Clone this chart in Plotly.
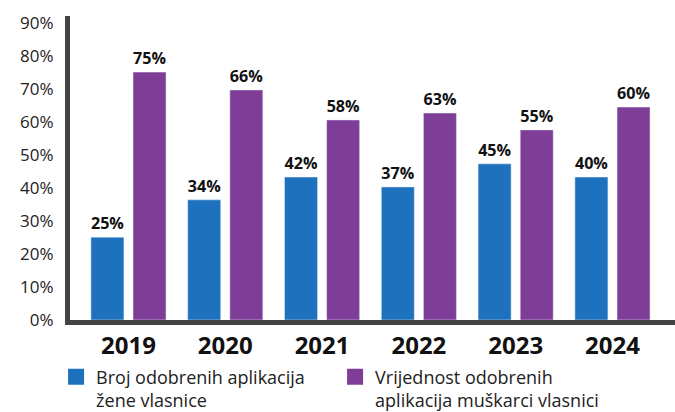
import plotly.graph_objects as go

years = ["2019", "2020", "2021", "2022", "2023", "2024"]
women_values = [25.1, 36.4, 43.3, 40.3, 47.3, 43.3]
men_values = [75.1, 69.7, 60.6, 62.7, 57.6, 64.5]
women_labels = ["25%", "34%", "42%", "37%", "45%", "40%"]
men_labels = ["75%", "66%", "58%", "63%", "55%", "60%"]
y_ticks = [0, 10, 20, 30, 40, 50, 60, 70, 80, 90]
y_tick_labels = ["0%", "10%", "20%", "30%", "40%", "50%", "60%", "70%", "80%", "90%"]
legend_names = ["Broj odobrenih aplikacija<br>žene vlasnice",
                "Vrijednost odobrenih<br>aplikacija muškarci vlasnici"]

BLUE = "#1e71bd"
PURPLE = "#7e3e97"
FONT = "Open Sans"

fig = go.Figure()
fig.add_trace(go.Bar(
    x=years, y=women_values, text=women_labels, textposition="outside",
    marker_color=BLUE, width=0.341, offset=-0.388, showlegend=False,
    textfont=dict(family=FONT, size=19, color="#111", weight="bold"),
    cliponaxis=False, hoverinfo="skip",
))
fig.add_trace(go.Bar(
    x=years, y=men_values, text=men_labels, textposition="outside",
    marker_color=PURPLE, width=0.341, offset=0.047, showlegend=False,
    textfont=dict(family=FONT, size=19, color="#111", weight="bold"),
    cliponaxis=False, hoverinfo="skip",
))
for name, col in zip(legend_names, [BLUE, PURPLE]):
    fig.add_trace(go.Scatter(
        x=[None], y=[None], mode="markers", name=name,
        marker=dict(symbol="square", size=19, color=col),
    ))

fig.update_layout(
    width=675, height=412,
    margin=dict(l=70, r=0, t=16, b=92, autoexpand=False),
    paper_bgcolor="white", plot_bgcolor="white",
    barmode="group",
    font=dict(family=FONT, color="#222"),
    showlegend=True,
    legend=dict(
        orientation="h", x=-0.023, y=-0.127, xanchor="left", yanchor="top",
        font=dict(family=FONT, size=18, color="#222"),
        entrywidth=234, entrywidthmode="pixels",
        valign="top", itemclick=False, itemdoubleclick=False,
    ),
    xaxis=dict(
        range=[-0.604, 5.646], showgrid=False, zeroline=False,
        showline=True, linecolor="#444", linewidth=5,
        tickfont=dict(family=FONT, size=24, color="#111", weight="bold"),
        ticks="", ticklabelstandoff=0, fixedrange=True, automargin=False,
    ),
    yaxis=dict(
        range=[0, 92.1], showgrid=False, zeroline=False,
        showline=True, linecolor="#444", linewidth=5,
        tickvals=y_ticks, ticktext=y_tick_labels,
        tickfont=dict(family=FONT, size=17, color="#222"),
        ticks="", ticklabelstandoff=8, fixedrange=True, automargin=False,
    ),
)

fig.write_html("out.html", config={"displayModeBar": False},
               post_script="document.body.style.margin='0px';")
